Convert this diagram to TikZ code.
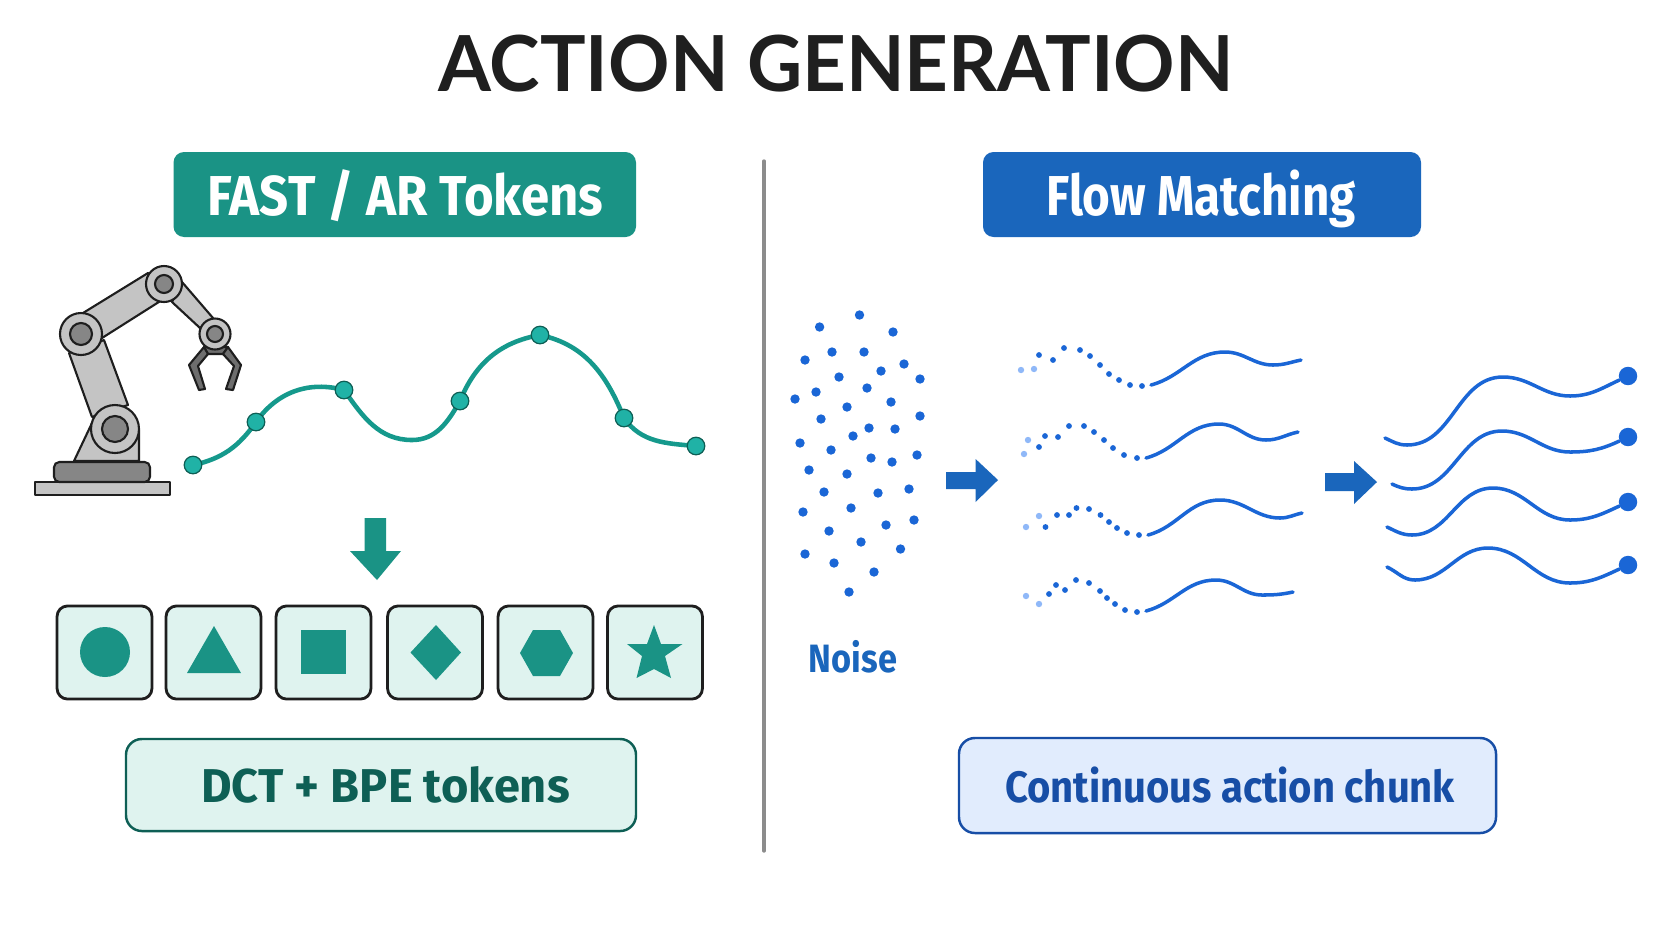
\documentclass[tikz,border=0pt]{standalone}
\usepackage{fontspec}
\setmainfont{Fira Sans}
\newfontfamily\titlefont{Lato}
\usetikzlibrary{shapes}

\definecolor{tealbar}{HTML}{1A9385}
\definecolor{tealline}{HTML}{15998C}
\definecolor{tealdot}{HTML}{20B2A6}
\definecolor{tealdark}{HTML}{0E5F55}
\definecolor{tealpale}{HTML}{DFF3EF}
\definecolor{bluebar}{HTML}{1A66BC}
\definecolor{blueline}{HTML}{1A66D6}
\definecolor{bluelight}{HTML}{8FB8F8}
\definecolor{bluepale}{HTML}{E1ECFD}
\definecolor{blueedge}{HTML}{174EA6}
\definecolor{armlight}{HTML}{C4C4C4}
\definecolor{armmid}{HTML}{868686}
\definecolor{armdark}{HTML}{6E6E6E}
\definecolor{armedge}{HTML}{1E1E1E}

\tikzset{
  headbox/.style={rounded corners=6pt},
  headtext/.style={anchor=base,text=white,font=\bfseries\fontsize{32}{32}\selectfont},
  notebox/.style={draw,line width=1.4pt,rounded corners=9pt},
  tokenbox/.style={draw=armedge,fill=tealpale,line width=1.6pt,rounded corners=6pt},
  tokenshape/.style={fill=tealbar},
  armpart/.style={draw=armedge,line width=1.2pt,line join=round},
  waypoint/.style={circle,draw=tealdark,fill=tealdot,line width=0.7pt,minimum size=10pt,inner sep=0pt},
  enddot/.style={circle,fill=blueline,minimum size=10.5pt,inner sep=0pt},
  waveline/.style={draw=blueline,line width=2pt,line cap=round},
  trajline/.style={draw=tealline,line width=2.6pt}
}

\begin{document}
\begin{tikzpicture}[x=0.02cm,y=-0.02cm]
\useasboundingbox[fill=white] (0,0) rectangle (1672,941);

\node(title) at (836,91) [anchor=base,text=black!88,font=\titlefont\bfseries\fontsize{44}{44}\selectfont] {\scalebox{.985}[1]{ACTION GENERATION}};
\draw[line width=1.9pt,color=gray!90,line cap=round] (764,161) -- (764,851);

% left side
\fill[headbox,fill=tealbar] (173.5,152) rectangle (636,237);
\node(fast) at (405.5,215) [headtext] {\scalebox{.905}[1]{FAST / AR Tokens}};

% robot arm
\draw[armpart,fill=armlight] (35,482) rectangle (170,495);
\draw[armpart,fill=armmid,rounded corners=3pt] (54,482) -- (54,462) -- (150,462) -- (150,482) -- cycle;
\draw[armpart,fill=armlight] (74,461) -- (92,423) -- (139,430) -- (139,461) -- cycle;
\draw[armpart,fill=armlight] (69,353) -- (104,340) -- (128,405) -- (92,417) -- cycle;
\draw[armpart,fill=armlight] (83,313) -- (148,273) -- (162,300) -- (102,338) -- cycle;
\draw[armpart,fill=armlight] (182,282) -- (213,318) -- (200,328) -- (172,302) -- cycle;
\draw[armpart,fill=armdark] (204,347) -- (228,347) -- (223,354) -- (208,354) -- cycle;
\draw[armpart,fill=armdark] (204,347) -- (189,365) -- (199,390) -- (205,389) -- (198,366) -- (208,354) -- cycle;
\draw[armpart,fill=armdark] (228,347) -- (241,365) -- (233,390) -- (226,389) -- (234,366) -- (223,354) -- cycle;
\foreach \jx/\jy/\ro/\ri in {115/429/24/13,81/334/21/11,164/284/18/9,215/334/15.5/8}{
  \draw[armpart,fill=armlight] (\jx,\jy) circle[radius=\ro];
  \draw[armpart,fill=armmid] (\jx,\jy) circle[radius=\ri];
}

% trajectory
\coordinate(wdip) at (412,440);
\draw[trajline] (193,465) to[out=12,in=235] (256,422) to[out=55,in=165] (344,390) to[out=-55,in=180] (wdip) to[out=0,in=240] (460,401) to[out=68,in=190] (540,335) to[out=-12,in=112] (624,418) to[out=-55,in=175] (696,446);
\node[waypoint](wa) at (193,465) {};
\node[waypoint](wb) at (256,422) {};
\node[waypoint](wc) at (344,390) {};
\node[waypoint](wd) at (460,401) {};
\node[waypoint](we) at (540,335) {};
\node[waypoint](wf) at (624,418) {};
\node[waypoint](wg) at (696,446) {};

\fill[tealbar] (364.5,518) -- (386,518) -- (386,551) -- (401,551) -- (377,580) -- (350,551) -- (364.5,551) -- cycle;

% token row
\foreach \tx/\tn in {104.5/ta,213.5/tb,323.5/tc,435/td,545.5/te,655/tf}
  \node[tokenbox,minimum width=54pt,minimum height=53pt,inner sep=0pt](\tn) at (\tx,652.5) {};
\fill[tokenshape] (105,652) ellipse[x radius=25,y radius=25];
\fill[tokenshape] (214,626) -- (241,673) -- (187,673) -- cycle;
\fill[tokenshape] (301,630) rectangle (346,674);
\fill[tokenshape] (436,625) -- (461,652.5) -- (436,680) -- (410.5,652.5) -- cycle;
\fill[tokenshape] (533,630) -- (560,630) -- (573,653) -- (560,676) -- (533,676) -- (520,653) -- cycle;
\fill[tokenshape] (654,625) -- (661,644) -- (682.5,644) -- (665,656) -- (671,678) -- (654,669) -- (636.5,678) -- (642,656) -- (627,644) -- (647,644) -- cycle;

\draw[notebox,draw=tealdark,fill=tealpale] (126,739) rectangle (636,831);
\node(dct) at (385.5,802) [anchor=base,text=tealdark,font=\bfseries\fontsize{27}{27}\selectfont] {\scalebox{.99}[1]{DCT + BPE tokens}};

% right side
\fill[headbox,fill=bluebar] (983,152) rectangle (1421,237);
\node(flow) at (1201,215) [headtext] {\scalebox{.845}[1]{Flow Matching}};

\foreach \dx/\dy in {859.5/315,819.6/327,893/332,832/352,864/352,805/360,904/364,881/371,839/377,920/379,867/388,816/392,795/399,891/402,847/407,821/419,920/416,869/428,895/429,853/436,800/443,831/450,871/458,892/462,917/455,809/470,847/474,824/492,878/493,909/489,803/512,851/508,886/525,914/520,829/531,861/542,900.5/549,805/554,834/563,874/572,849/592}
  \fill[blueline] (\dx,\dy) circle[radius=4.7];
\node(noise) at (853,672) [anchor=base,text=bluebar,font=\bfseries\fontsize{22.5}{22.5}\selectfont] {\scalebox{.87}[1]{Noise}};

\fill[bluebar] (946,472) -- (975.6,472) -- (975.6,459) -- (998,480) -- (975.6,502) -- (975.6,489) -- (946,489) -- cycle;

% partly denoised paths
\foreach \dx/\dy in {1021/370,1034/369,1024/454,1028/440,1026/527,1039/516,1026/596,1039/604}
  \fill[bluelight] (\dx,\dy) circle[radius=3.2];
\foreach \dx/\dy in {1039/355,1053/360,1064/348,1080/350,1090/356,1100/365,1109/374,1119/380,1130/385,1142/386,
  1039/447,1045/436,1058/437,1069/426,1084/426,1094/432,1104/440,1113/448,1124/455,1137/458,
  1045.5/527,1057/515,1069/515,1076.5/508,1089/509,1100.5/515,1109/522,1117/528,1127/533,1139/535,
  1049/594,1056/585,1065/590,1076/580,1089/583,1100/591,1107/598,1115/604,1125/610,1137/612}
  \fill[blueline] (\dx,\dy) circle[radius=2.9];
\foreach \sx/\sy/\px/\py/\vx/\vy/\ex/\ey in {1151/385/1225/352/1273/365/1301/360,1146/458/1219/424/1266/440/1298/432,1148/535/1220/500/1280/518/1302/513,1146/611/1216/580/1262/595/1293/592}
  \draw[waveline] (\sx,\sy) to[out=15,in=180] (\px,\py) to[out=0,in=180] (\vx,\vy) to[out=0,in=192] (\ex,\ey);

\fill[bluebar] (1325,473) -- (1354,473) -- (1354,461) -- (1377,482) -- (1354,504) -- (1354,491) -- (1325,491) -- cycle;

% final paths
\foreach \en/\ey/\sx/\sy/\mx/\my/\px/\py/\vy in {fa/376/1385/438/1407/445/1503/377/396,fb/437/1392/484/1412/489/1502/431/452,fc/502/1387/527/1412/535/1493/488/520,fd/565/1387/567/1415/580/1488/548/583}{
  \node[enddot](\en) at (1628,\ey) {};
  \draw[waveline] (\sx,\sy) to[out=-25,in=180] (\mx,\my) to[out=0,in=180] (\px,\py) to[out=0,in=180] (1570,\vy) to[out=0,in=205] (\en);
}

\draw[notebox,draw=blueedge,fill=bluepale] (959,738) rectangle (1496,833);
\node(chunk) at (1230,802) [anchor=base,text=blueedge,font=\bfseries\fontsize{25}{25}\selectfont] {\scalebox{.91}[1]{Continuous action chunk}};
\end{tikzpicture}
\end{document}
